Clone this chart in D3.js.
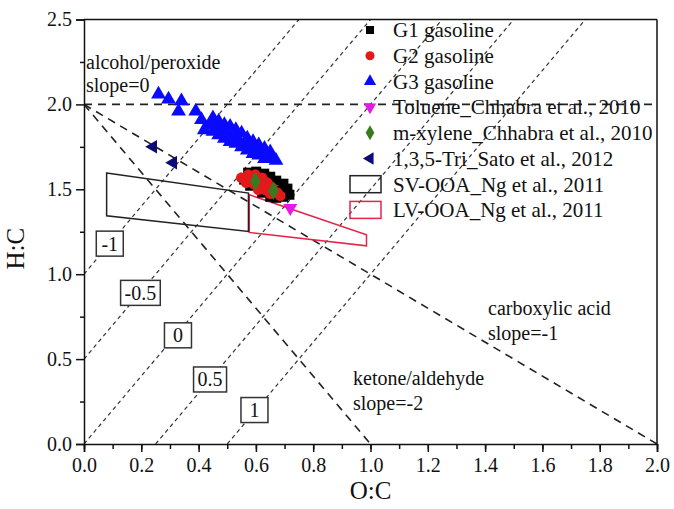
<!DOCTYPE html>
<html>
<head>
<meta charset="utf-8">
<script src="https://cdn.jsdelivr.net/npm/d3@7"></script>
<style>
  body { margin: 0; background: #fff; }
  text { font-family: "Liberation Serif", "Times New Roman", serif; fill: #111; }
</style>
</head>
<body>
<div id="chart"></div>
<script>
// ---- data ----
var g1 = [[0.573,1.598],[0.601,1.604],[0.629,1.592],[0.650,1.574],[0.671,1.551],[0.696,1.533],[0.710,1.504],
  [0.717,1.468],[0.696,1.456],[0.671,1.450],[0.650,1.456],[0.622,1.480],[0.580,1.521],[0.559,1.557],[0.705,1.47],[0.69,1.49]];
var g2 = [[0.549,1.568],[0.573,1.586],[0.598,1.586],[0.622,1.568],[0.566,1.539],[0.591,1.533],[0.615,1.527],
  [0.640,1.539],[0.608,1.498],[0.633,1.498],[0.657,1.509],[0.650,1.474],[0.675,1.480],[0.685,1.462],[0.585,1.56]];
var g3 = [[0.26,2.06],[0.295,2.03],[0.34,2.02],[0.33,1.96],[0.39,1.96],[0.41,1.91],[0.42,1.85],
  [0.45,1.92],[0.47,1.90],[0.49,1.88],[0.51,1.87],[0.53,1.85],[0.55,1.83],[0.57,1.80],[0.59,1.78],[0.61,1.76],[0.63,1.74],[0.65,1.72],
  [0.44,1.88],[0.46,1.86],[0.48,1.85],[0.50,1.83],[0.52,1.81],[0.54,1.79],[0.56,1.77],[0.58,1.75],[0.60,1.73],[0.62,1.71],[0.64,1.70],[0.66,1.68],
  [0.45,1.84],[0.47,1.82],[0.49,1.80],[0.51,1.78],[0.53,1.77],[0.55,1.75],[0.57,1.73],[0.59,1.71],[0.61,1.70],[0.63,1.68],[0.67,1.67]];
var toluene = [[0.72,1.39]];
var mxylene = [[0.598,1.547],[0.661,1.492]];
var tmb = [[0.241,1.751],[0.311,1.657]];
var svOOA = [[0.079,1.596],[0.574,1.478],[0.574,1.252],[0.079,1.344]];
var lvOOA = [[0.577,1.468],[0.986,1.232],[0.986,1.167],[0.577,1.246]];

var xTicks = [0,0.2,0.4,0.6,0.8,1.0,1.2,1.4,1.6,1.8,2.0];
var yTicks = [0,0.5,1.0,1.5,2.0,2.5];
var slopeLines = [0,-1,-2];               // through (0,2)
var osLines = [-1,-0.5,0,0.5,1];          // H:C = 2*O:C - OSc
var osLabelAt = [[0.09,1.18],[0.197,0.89],[0.328,0.64],[0.44,0.38],[0.595,0.2]];

var legendItems = [
  {name:"G1 gasoline", kind:"square"},
  {name:"G2 gasoline", kind:"circle"},
  {name:"G3 gasoline", kind:"triangle"},
  {name:"Toluene_Chhabra et al., 2010", kind:"down"},
  {name:"m-xylene_Chhabra et al., 2010", kind:"diamond"},
  {name:"1,3,5-Tri_Sato et al., 2012", kind:"left"},
  {name:"SV-OOA_Ng et al., 2011", kind:"boxBlack"},
  {name:"LV-OOA_Ng et al., 2011", kind:"boxRed"}
];

var margin = {top: 19.5, right: 17, bottom: 65, left: 84},
    W = 674, H = 509,
    width = W - margin.left - margin.right,
    height = H - margin.top - margin.bottom;

var svg = d3.select("#chart").append("svg")
  .attr("width", W).attr("height", H)
  .append("g")
  .attr("transform", "translate(" + margin.left + "," + margin.top + ")");

var x = d3.scaleLinear().domain([0,2]).range([0,width]);
var y = d3.scaleLinear().domain([0,2.5]).range([height,0]);

svg.append("clipPath").attr("id","clip").append("rect")
  .attr("width", width).attr("height", height);

var lines = svg.append("g").attr("clip-path","url(#clip)");

// oxidation state lines (fine dashes)
osLines.forEach(function(os) {
  var x0 = Math.max(0, os/2), x1 = (2.5 + os)/2;
  lines.append("line")
    .attr("x1", x(x0)).attr("y1", y(2*x0 - os))
    .attr("x2", x(x1)).attr("y2", y(2*x1 - os))
    .attr("stroke","#333").attr("stroke-width",1.2).attr("stroke-dasharray","4,3.5");
});

// slope lines (coarse dashes)
slopeLines.forEach(function(s) {
  var x1 = s == 0 ? 2 : -2/s;
  lines.append("line")
    .attr("x1", x(0)).attr("y1", y(2))
    .attr("x2", x(x1)).attr("y2", y(2 + s*x1))
    .attr("stroke","#222").attr("stroke-width",1.6).attr("stroke-dasharray","8,6");
});

// OSc labels in boxes
osLines.forEach(function(os, i) {
  var t = svg.append("text")
    .attr("x", x(osLabelAt[i][0])).attr("y", y(osLabelAt[i][1]))
    .attr("text-anchor","middle").attr("dy","0.35em")
    .attr("font-size","20px").text(os);
  var bb = t.node().getBBox();
  var bw = Math.max(bb.width + 8, 27), bh = 25;
  svg.insert("rect", "text:last-child")
    .attr("x", bb.x + bb.width/2 - bw/2).attr("y", bb.y + bb.height/2 - bh/2)
    .attr("width", bw).attr("height", bh)
    .attr("fill","#fff").attr("stroke","#333").attr("stroke-width",1.5);
  t.raise();
});

// region polygons
var poly = d3.line().x(function(d){ return x(d[0]); }).y(function(d){ return y(d[1]); }).curve(d3.curveLinearClosed);
svg.append("path").datum(lvOOA).attr("d", poly).attr("fill","none").attr("stroke","#e8234a").attr("stroke-width",1.5);
svg.append("path").datum(svOOA).attr("d", poly).attr("fill","none").attr("stroke","#222").attr("stroke-width",1.5);

// markers
function plot(data, type, size, fill, rot) {
  svg.append("g").selectAll("path").data(data).enter().append("path")
    .attr("d", d3.symbol().type(type).size(size))
    .attr("transform", function(d){ return "translate(" + x(d[0]) + "," + y(d[1]) + ") rotate(" + rot + ")"; })
    .attr("fill", fill);
}
plot(g1, d3.symbolSquare, 100, "#000", 0);
plot(g2, d3.symbolCircle, 90, "#e31a1a", 0);
plot(g3, d3.symbolTriangle, 95, "#0a0aff", 0);
plot(toluene, d3.symbolTriangle, 85, "#e619e6", 180);
plot(mxylene, d3.symbolDiamond, 100, "#3a7a1e", 0);
plot(tmb, d3.symbolTriangle, 80, "#0c0c78", -90);

// axes
svg.append("g").attr("transform","translate(0," + height + ")")
  .call(d3.axisBottom(x).tickValues(d3.range(0, 2.01, 0.1)).tickSize(5).tickFormat(""))
  .call(function(g){ g.select(".domain").remove(); });
svg.append("g").attr("transform","translate(0," + height + ")")
  .call(d3.axisBottom(x).tickValues(xTicks).tickSize(8).tickPadding(6).tickFormat(d3.format(".1f")))
  .call(function(g){ g.selectAll("text").attr("font-size","20px").attr("font-family","Liberation Serif").attr("fill","#111"); });
svg.append("g")
  .call(d3.axisLeft(y).tickValues(d3.range(0.25, 2.5, 0.5)).tickSize(4).tickFormat(""))
  .call(function(g){ g.select(".domain").remove(); });
svg.append("g")
  .call(d3.axisLeft(y).tickValues(yTicks).tickSize(8).tickPadding(4).tickFormat(d3.format(".1f")))
  .call(function(g){ g.selectAll("text").attr("font-size","20px").attr("font-family","Liberation Serif").attr("fill","#111"); });
svg.selectAll(".domain, .tick line").attr("stroke","#111").attr("stroke-width",1.5);

// frame top/right
svg.append("line").attr("x1",0).attr("y1",0).attr("x2",width).attr("y2",0).attr("stroke","#111").attr("stroke-width",1.5);
svg.append("line").attr("x1",width).attr("y1",0).attr("x2",width).attr("y2",height).attr("stroke","#111").attr("stroke-width",1.5);

// axis titles
svg.append("text").attr("x", width/2).attr("y", height + 55).attr("text-anchor","middle")
  .attr("font-size","25px").text("O:C");
svg.append("text").attr("transform","translate(" + (-60) + "," + (height/2 + 17) + ") rotate(-90)")
  .attr("text-anchor","middle").attr("font-size","25px").text("H:C");

// annotations
var notes = [
  ["alcohol/peroxide", 2, 42.5], ["slope=0", 2, 65.5],
  ["carboxylic acid", 404, 288.5], ["slope=-1", 404, 313.5],
  ["ketone/aldehyde", 269, 358.5], ["slope=-2", 269, 383.5]
];
notes.forEach(function(n) {
  svg.append("text").attr("x", n[1]).attr("y", n[2]).attr("dy","0.35em")
    .attr("font-size","20px").text(n[0]);
});

// legend
var leg = svg.append("g").attr("transform","translate(" + (370 - margin.left) + "," + (30 - margin.top) + ")");
legendItems.forEach(function(it, i) {
  var g = leg.append("g").attr("transform","translate(0," + (i*25.7) + ")");
  if (it.kind == "boxBlack" || it.kind == "boxRed") {
    g.append("rect").attr("x",-20).attr("y",-8.5).attr("width",31).attr("height",17)
      .attr("fill","none").attr("stroke", it.kind == "boxRed" ? "#e8234a" : "#222").attr("stroke-width",1.5);
  } else {
    var t = {square:d3.symbolSquare, circle:d3.symbolCircle, triangle:d3.symbolTriangle,
             down:d3.symbolTriangle, diamond:d3.symbolDiamond, left:d3.symbolTriangle}[it.kind];
    var c = {square:"#000", circle:"#e31a1a", triangle:"#0a0aff", down:"#e619e6", diamond:"#3a7a1e", left:"#0c0c78"}[it.kind];
    var r = it.kind == "down" ? 180 : (it.kind == "left" ? -90 : 0);
    g.append("path").attr("d", d3.symbol().type(t).size(65)()).attr("transform","rotate(" + r + ")").attr("fill", c);
  }
  g.append("text").attr("x", 23).attr("y", 0).attr("dy","0.35em").attr("font-size","21px").text(it.name);
});
</script>
</body>
</html>
